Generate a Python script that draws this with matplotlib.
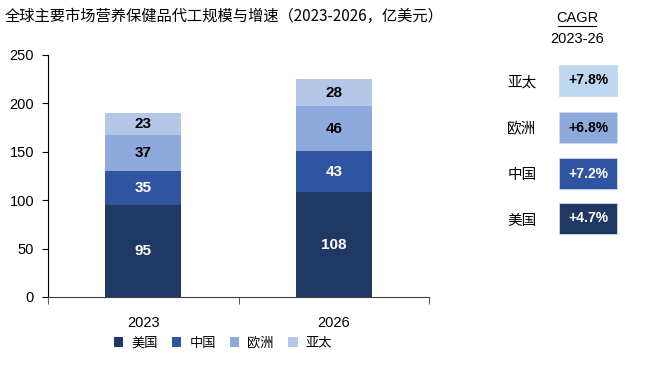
import matplotlib
matplotlib.use("Agg")
import matplotlib.pyplot as plt
from matplotlib.patches import Rectangle, Patch
import numpy as np

years = ["2023", "2026"]
regions = ["美国", "中国", "欧洲", "亚太"]
us = [95, 108]
cn = [35, 43]
eu = [37, 46]
ap = [23, 28]
series = [us, cn, eu, ap]
colors = ["#1F3864", "#2F55A2", "#8EA9DB", "#B4C7E7"]
label_colors = ["white", "white", "black", "black"]

cagr_regions = ["亚太", "欧洲", "中国", "美国"]
cagr_values = ["+7.8%", "+6.8%", "+7.2%", "+4.7%"]
cagr_colors = ["#BDD7EE", "#8EA9DB", "#2F55A2", "#1F3864"]
cagr_text_colors = ["black", "black", "white", "white"]

title = "全球主要市场营养保健品代工规模与增速（2023-2026，亿美元）"

CJK = ["Noto Sans CJK SC", "DejaVu Sans"]
NUM = ["Liberation Sans", "DejaVu Sans"]
NARROW = ["Liberation Sans Narrow", "Liberation Sans", "DejaVu Sans"]

W, H = 658, 368
fig = plt.figure(figsize=(W / 100, H / 100), dpi=100)
ax = fig.add_axes([48 / W, 1 - 297 / H, (429 - 48) / W, (297 - 55) / H])

x = np.arange(len(years))
bottom = np.zeros(len(years))
handles = []
for vals, col, lc, name in zip(series, colors, label_colors, regions):
    vals = np.array(vals, dtype=float)
    ax.bar(x, vals, 0.4, bottom=bottom, color=col, label=name)
    for xi, b, v in zip(x, bottom, vals):
        ax.text(xi, b + v / 2, f"{int(v)}", ha="center", va="center",
                color=lc, fontsize=11, fontweight="bold", family=NARROW)
    bottom += vals
    handles.append(Patch(facecolor=col, edgecolor="none"))

ax.set_xlim(-0.5, 1.5)
ax.set_ylim(0, 250)
ax.set_yticks(range(0, 251, 50))
ax.set_xticks(x)
ax.set_xticklabels(years)
ax.set_xticks([-0.5, 0.5, 1.5], minor=True)
ax.tick_params(axis="x", which="major", length=0, pad=14, labelsize=10.5)
ax.tick_params(axis="x", which="minor", length=5, direction="out", color="#404040")
ax.tick_params(axis="y", length=4, direction="out", labelsize=10.5, pad=6)
for lab in ax.get_xticklabels() + ax.get_yticklabels():
    lab.set_family(NUM)
for s in ["top", "right"]:
    ax.spines[s].set_visible(False)
ax.spines["left"].set_color("#000000")
ax.spines["bottom"].set_color("#404040")

fig.legend(handles, regions, loc="center", bbox_to_anchor=(223 / W, 1 - 343 / H),
           ncol=4, frameon=False, handlelength=0.7, handleheight=0.7,
           handletextpad=0.6, columnspacing=1.1,
           prop={"family": CJK, "size": 9.5})

fig.text(5 / W, 1 - 16 / H, title, ha="left", va="center", fontsize=11, family=CJK)

# CAGR panel
fig.text(577 / W, 1 - 18 / H, "CAGR", ha="center", va="center", fontsize=10.5, family=NUM)
fig.add_artist(plt.Line2D([558 / W, 596 / W], [1 - 26 / H, 1 - 26 / H], color="black", lw=0.8))
fig.text(577 / W, 1 - 39 / H, "2023-26", ha="center", va="center", fontsize=10.5, family=NUM)

box_tops = [65, 112, 158, 203]
box_h = 31
for top, reg, val, bc, tc in zip(box_tops, cagr_regions, cagr_values, cagr_colors, cagr_text_colors):
    fig.add_artist(Rectangle((559 / W, 1 - (top + box_h) / H), 58 / W, box_h / H,
                             facecolor=bc, edgecolor="#D0D8E8", lw=0.6,
                             transform=fig.transFigure))
    fig.text(588 / W, 1 - (top + box_h / 2) / H, val, ha="center", va="center",
             fontsize=10, fontweight="bold", color=tc, family=NUM)
    fig.text(522 / W, 1 - (top + box_h / 2 + 2) / H, reg, ha="center", va="center",
             fontsize=10.5, family=CJK)

fig.savefig("out.png", dpi=100)
